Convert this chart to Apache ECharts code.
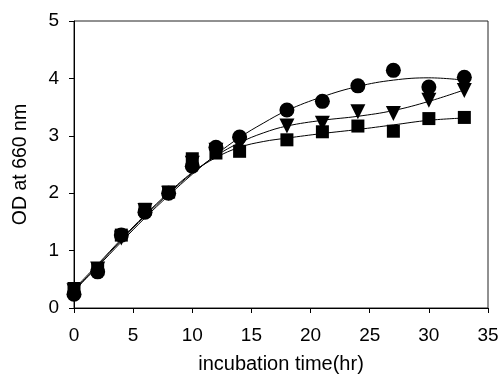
<!DOCTYPE html>
<html>
<head>
<meta charset="utf-8">
<script src="https://cdn.jsdelivr.net/npm/echarts@6/dist/echarts.min.js"></script>
<style>
html,body{margin:0;padding:0;background:#fff;}
#c{width:501px;height:376px;}
</style>
</head>
<body>
<div id="c"></div>
<script>
// Measured time points (hr)
const times = [0, 2, 4, 6, 8, 10, 12, 14, 18, 21, 24, 27, 30, 33];
// OD at 660 nm values
const circleVals   = [0.24, 0.63, 1.27, 1.67, 2.00, 2.47, 2.80, 2.98, 3.45, 3.60, 3.87, 4.14, 3.85, 4.02];
const triangleVals = [0.30, 0.68, 1.22, 1.70, 2.00, 2.52, 2.75, 2.85, 3.17, 3.22, 3.42, 3.39, 3.62, 3.79];
const squareVals   = [0.34, 0.68, 1.27, 1.72, 2.02, 2.60, 2.70, 2.73, 2.93, 3.07, 3.17, 3.08, 3.30, 3.32];

// Trend curves
const trendTimes    = [0, 2, 4, 6, 8, 10, 12, 14, 16, 18, 21, 24, 27, 30, 33];
const circleTrend   = [0.30, 0.72, 1.15, 1.57, 1.96, 2.33, 2.67, 2.97, 3.22, 3.44, 3.68, 3.86, 3.97, 4.01, 3.97];
const triangleTrend = [0.30, 0.74, 1.18, 1.60, 1.99, 2.35, 2.65, 2.88, 3.05, 3.17, 3.27, 3.34, 3.44, 3.60, 3.80];
const squareTrend   = [0.33, 0.76, 1.20, 1.62, 2.01, 2.36, 2.62, 2.80, 2.90, 2.96, 3.04, 3.11, 3.19, 3.27, 3.31];

const xTicks = [0, 5, 10, 15, 20, 25, 30, 35];
const yTicks = [0, 1, 2, 3, 4, 5];

const pair = (xs, ys) => xs.map((x, i) => [x, ys[i]]);
const FONT = 'Liberation Sans';

function trend(vals) {
  return {
    type: 'line', data: pair(trendTimes, vals), smooth: 0.4, showSymbol: false,
    lineStyle: { color: '#000', width: 1 }, silent: true, z: 2
  };
}
function marks(vals, symbol, size) {
  return {
    type: 'scatter', data: pair(times, vals), symbol: symbol, symbolSize: size,
    itemStyle: { color: '#000', opacity: 1 }, z: 3
  };
}

const chart = echarts.init(document.getElementById('c'), null, { renderer: 'canvas' });
chart.setOption({
  animation: false,
  backgroundColor: '#fff',
  grid: { left: 74, right: 13, top: 21, bottom: 68, containLabel: false, outerBoundsMode: 'none',
          show: true, borderColor: '#222', borderWidth: 1 },
  xAxis: {
    type: 'value', min: xTicks[0], max: xTicks[xTicks.length - 1], interval: 5,
    name: 'incubation time(hr)', nameLocation: 'middle', nameGap: 46, nameMoveOverlap: false,
    nameTextStyle: { fontFamily: FONT, fontSize: 20, color: '#000' },
    axisLine: { show: true, onZero: false, lineStyle: { color: '#000', width: 1 } },
    axisTick: { show: true, length: 5, lineStyle: { color: '#000' } },
    axisLabel: { fontFamily: FONT, fontSize: 19, color: '#000', margin: 18 },
    splitLine: { show: false }
  },
  yAxis: {
    type: 'value', min: yTicks[0], max: yTicks[yTicks.length - 1], interval: 1,
    name: 'OD at 660 nm', nameLocation: 'middle', nameGap: 43, nameRotate: 90, nameMoveOverlap: false,
    nameTextStyle: { fontFamily: FONT, fontSize: 19.5, color: '#000' },
    axisLine: { show: true, onZero: false, lineStyle: { color: '#000', width: 1 } },
    axisTick: { show: true, length: 5, lineStyle: { color: '#000' } },
    axisLabel: { fontFamily: FONT, fontSize: 19, color: '#000', margin: 15 },
    splitLine: { show: false }
  },
  series: [
    trend(circleTrend), trend(triangleTrend), trend(squareTrend),
    marks(squareVals, 'rect', 13),
    marks(triangleVals, 'path://M0,0 L10,0 L5,9 Z', 15),
    marks(circleVals, 'circle', 15)
  ]
});
</script>
</body>
</html>
